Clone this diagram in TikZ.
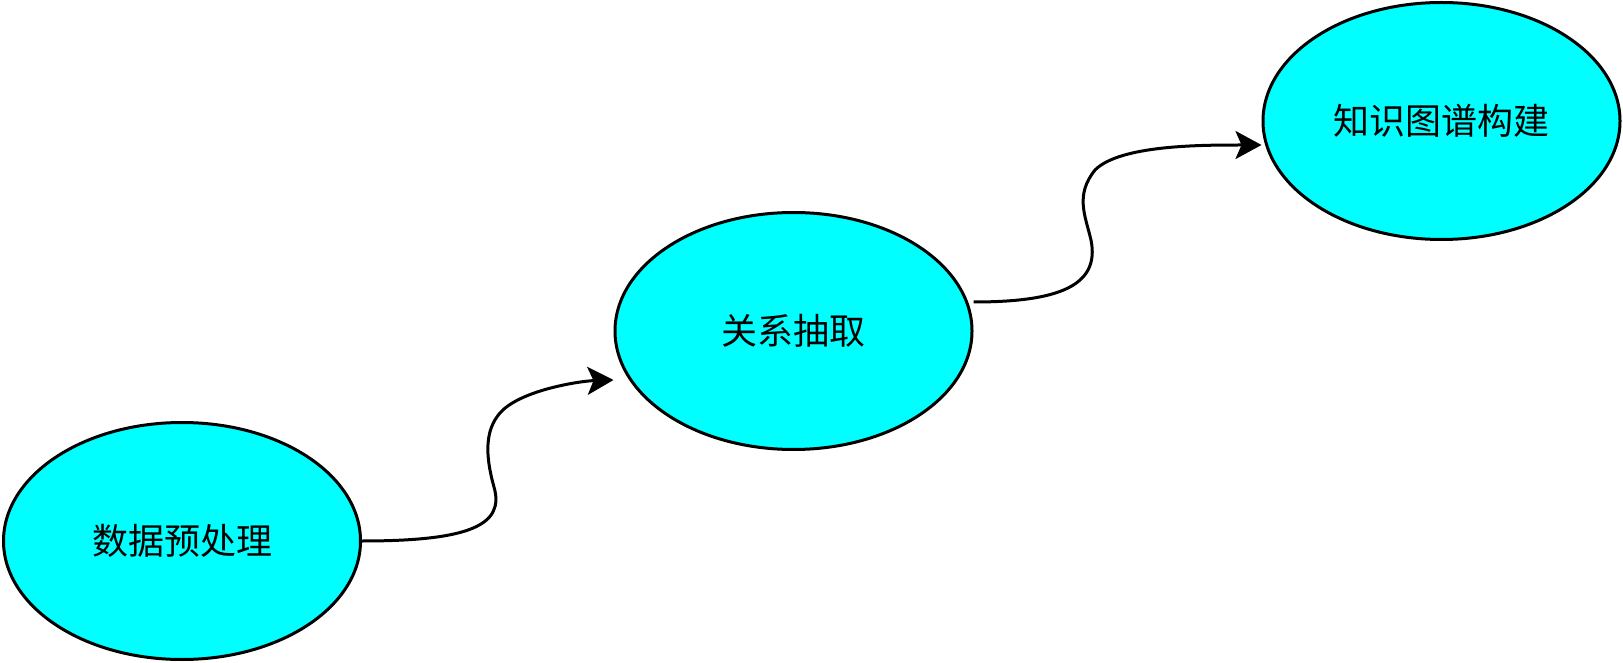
\documentclass[tikz,border=0pt]{standalone}
\usepackage{fontspec}
\setmainfont{Noto Sans CJK SC}
\usetikzlibrary{shapes.geometric,arrows.meta}
\definecolor{stagefill}{RGB}{0,255,255}
\begin{document}
\begin{tikzpicture}[x=1pt, y=-1pt,
    stage/.style={ellipse,draw,line width=3pt,fill=stagefill,minimum width=357pt,minimum height=237pt,inner sep=0pt,font=\fontsize{36}{43}\selectfont},
    flow/.style={line width=3pt,-{Stealth[length=26pt,width=28pt,inset=6pt]}}]
                \useasboundingbox (0,0) rectangle (1623,663);
                % Stages of the pipeline
                \node[stage] (prep) at (182,541) {数据预处理};
                \node[stage] (rel) at (793.5,331) {关系抽取};
                \node[stage] (kg) at (1441.5,121) {知识图谱构建};
                % Wave points of the connectors
                \coordinate (w1) at (494,487);
                \coordinate (w2) at (500,413);
                \coordinate (w3) at (1091,240);
                \coordinate (w4) at (1095,170);
                % Connectors
                \draw[flow] (prep.east) .. controls +(108,0) and +(11,38) .. (w1)
                    .. controls +(-9,-32) and +(-15,17) .. (w2)
                    .. controls +(20,-23) and +(-33,1) .. ([yshift=-49pt]rel.west);
                \draw[flow] ([yshift=29pt]rel.east) .. controls +(87,0) and +(9,45) .. (w3)
                    .. controls +(-6,-25) and +(-20,25) .. (w4)
                    .. controls +(25,-25) and +(-61,0) .. ([yshift=-24pt]kg.west);
            \end{tikzpicture}
\end{document}
